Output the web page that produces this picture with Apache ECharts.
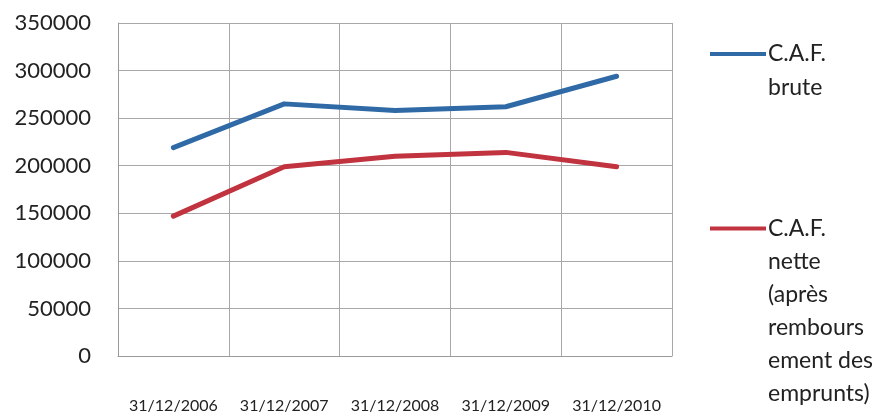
<!DOCTYPE html>
<html><head><meta charset="utf-8">
<script src="https://cdn.jsdelivr.net/npm/echarts@6/dist/echarts.min.js"></script>
<style>html,body{margin:0;padding:0;background:#fff}#c{width:880px;height:414px}</style>
</head><body><div id="c"></div>
<script>
const categories = ['31/12/2006','31/12/2007','31/12/2008','31/12/2009','31/12/2010'];
const cafBrute = [219000, 265000, 258000, 262000, 294000];
const cafNette = [147000, 199000, 210000, 214000, 199000];
const nameBrute = 'C.A.F.\nbrute';
const nameNette = 'C.A.F.\nnette\n(après\nrembours\nement des\nemprunts)';
const yTicks = {min: 0, max: 350000, interval: 50000};

function iconPath(w, lh, n) {
  const c = lh / 2;
  return 'path://M0,0L0,0M0,' + (n * lh) + 'L0,' + (n * lh) +
    'M0,' + (c - 2) + 'L' + w + ',' + (c - 2) + 'L' + w + ',' + (c + 2) + 'L0,' + (c + 2) + 'Z';
}
const FONT = 'Lato, "Open Sans", sans-serif';
const chart = echarts.init(document.getElementById('c'));
chart.setOption({
  animation: false,
  backgroundColor: '#fff',
  grid: {left: 118, right: 208, top: 23, bottom: 57, containLabel: false},
  legend: [
    {left: 705, top: 32, orient: 'vertical', itemWidth: 56, itemHeight: 68, itemGap: 0,
     selectedMode: false,
     data: [{name: nameBrute, icon: iconPath(56, 34, 2)}],
     textStyle: {fontFamily: FONT, fontSize: 23, color: '#222', lineHeight: 34, padding: [0,0,0,-3]}},
    {left: 705, top: 207, orient: 'vertical', itemWidth: 56, itemHeight: 198, itemGap: 0,
     selectedMode: false,
     data: [{name: nameNette, icon: iconPath(56, 33, 6)}],
     textStyle: {fontFamily: FONT, fontSize: 23, color: '#222', lineHeight: 33, padding: [0,0,0,-3]}}
  ],
  xAxis: {
    type: 'category', data: categories, boundaryGap: true,
    axisLine: {show: true, lineStyle: {color: '#9a9a9a', width: 1}},
    axisTick: {show: false, interval: 0},
    splitLine: {show: true, interval: 0, lineStyle: {color: '#a8a8a8', width: 1}},
    axisLabel: {interval: 0, hideOverlap: false, fontFamily: FONT, fontSize: 16, color: '#222', margin: 42}
  },
  yAxis: {
    type: 'value', min: yTicks.min, max: yTicks.max, interval: yTicks.interval,
    axisLine: {show: true, lineStyle: {color: '#9a9a9a', width: 1}},
    axisTick: {show: false},
    splitLine: {show: true, lineStyle: {color: '#a8a8a8', width: 1}},
    axisLabel: {fontFamily: FONT, fontSize: 22, color: '#222', margin: 27,
                formatter: function (v) { return String(v); }}
  },
  series: [
    {name: nameBrute, type: 'line', data: cafBrute, showSymbol: false, symbol: 'none',
     color: '#2f6aa6', lineStyle: {width: 5, color: '#2f6aa6', cap: 'round', join: 'round'}},
    {name: nameNette, type: 'line', data: cafNette, showSymbol: false, symbol: 'none',
     color: '#c0333f', lineStyle: {width: 5, color: '#c0333f', cap: 'round', join: 'round'}}
  ]
});
</script></body></html>
